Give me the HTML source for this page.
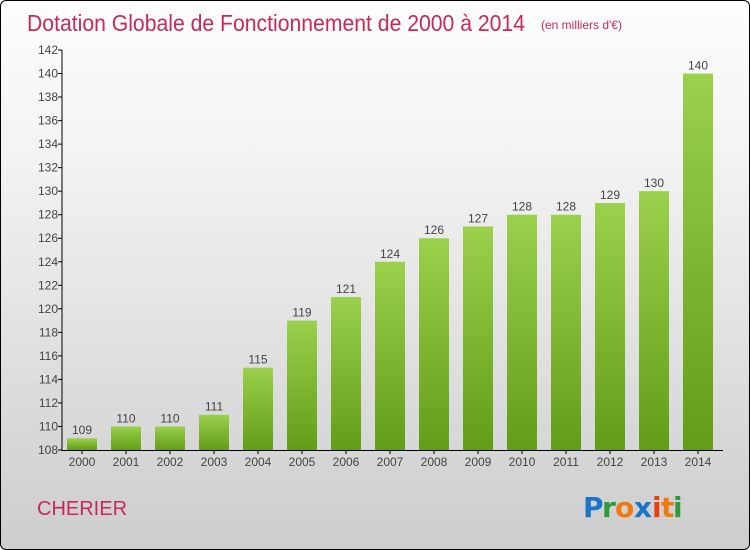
<!DOCTYPE html>
<html><head><meta charset="utf-8"><style>
body{margin:0;}
#c{position:relative;width:748px;height:548px;border:1px solid #000;border-radius:6px;background:linear-gradient(#fefefe,#f2f2f2 30%,#cdcdcd);overflow:hidden;font-family:"Liberation Sans",sans-serif;}
</style></head><body>
<div id="c">
<svg width="748" height="548">
<defs><linearGradient id="g" x1="0" y1="0" x2="0" y2="1"><stop offset="0" stop-color="#9bd14c"/><stop offset="1" stop-color="#629c18"/></linearGradient></defs>
<text x="26" y="30" font-size="23" fill="#c8285a" textLength="498" lengthAdjust="spacingAndGlyphs">Dotation Globale de Fonctionnement de 2000 à 2014</text>
<text x="540" y="28" font-size="12" fill="#c8285a">(en milliers d'€)</text>
<text x="36" y="514" font-size="20" fill="#c8285a">CHERIER</text>
<g font-size="28" font-weight="bold" font-family="'DejaVu Sans',sans-serif">
<text x="582" y="516" fill="#1a74c8">P</text><text x="601" y="516" fill="#2e9a3a">r</text><text x="614" y="516" fill="#f07a10">o</text><text x="633" y="516" fill="#1a74c8">x</text><text x="651" y="516" fill="#e84010">i</text><text x="660" y="516" fill="#f07a10">t</text><text x="672" y="516" fill="#2e9a3a">i</text></g>
<g id="plot"></g>
</svg></div>
<script>
const categories=["2000","2001","2002","2003","2004","2005","2006","2007","2008","2009","2010","2011","2012","2013","2014"];
const values=[109,110,110,111,115,119,121,124,126,127,128,128,129,130,140];
const yTicks=[108,110,112,114,116,118,120,122,124,126,128,130,132,134,136,138,140,142];
const NS="http://www.w3.org/2000/svg";
const g=document.getElementById('plot');
const y=v=>449-(v-108)*(400/34);
const x=i=>81+i*44;
function el(t,a,txt){const e=document.createElementNS(NS,t);for(const k in a)e.setAttribute(k,a[k]);if(txt!=null)e.textContent=txt;g.appendChild(e);return e;}
values.forEach((v,i)=>{
 const r=el('rect',{x:x(i)-15,y:y(v),width:30,height:y(108)-y(v),fill:'url(#g)'});
 
 
 const l=el('text',{x:x(i),y:y(v)-4,'font-size':12,fill:'#444','text-anchor':'middle'},v);
 
 
 const c=el('text',{x:x(i),y:465,'font-size':12,fill:'#444','text-anchor':'middle'},categories[i]);
 
 
 el('line',{x1:x(i),x2:x(i),y1:449,y2:453,stroke:'#000'});
});
yTicks.forEach(t=>{
 el('line',{x1:57,x2:61,y1:y(t),y2:y(t),stroke:'#000'});
 const l=el('text',{x:57,y:y(t)+4,'font-size':12,fill:'#444','text-anchor':'end'},t);
 
 
});
const ya=el('line',{x1:61,x2:61,y1:y(142),y2:450,stroke:'#000'});


const xa=el('line',{x1:61,x2:722,y1:449.5,y2:449.5,stroke:'#000'});


</script>
</body></html>
